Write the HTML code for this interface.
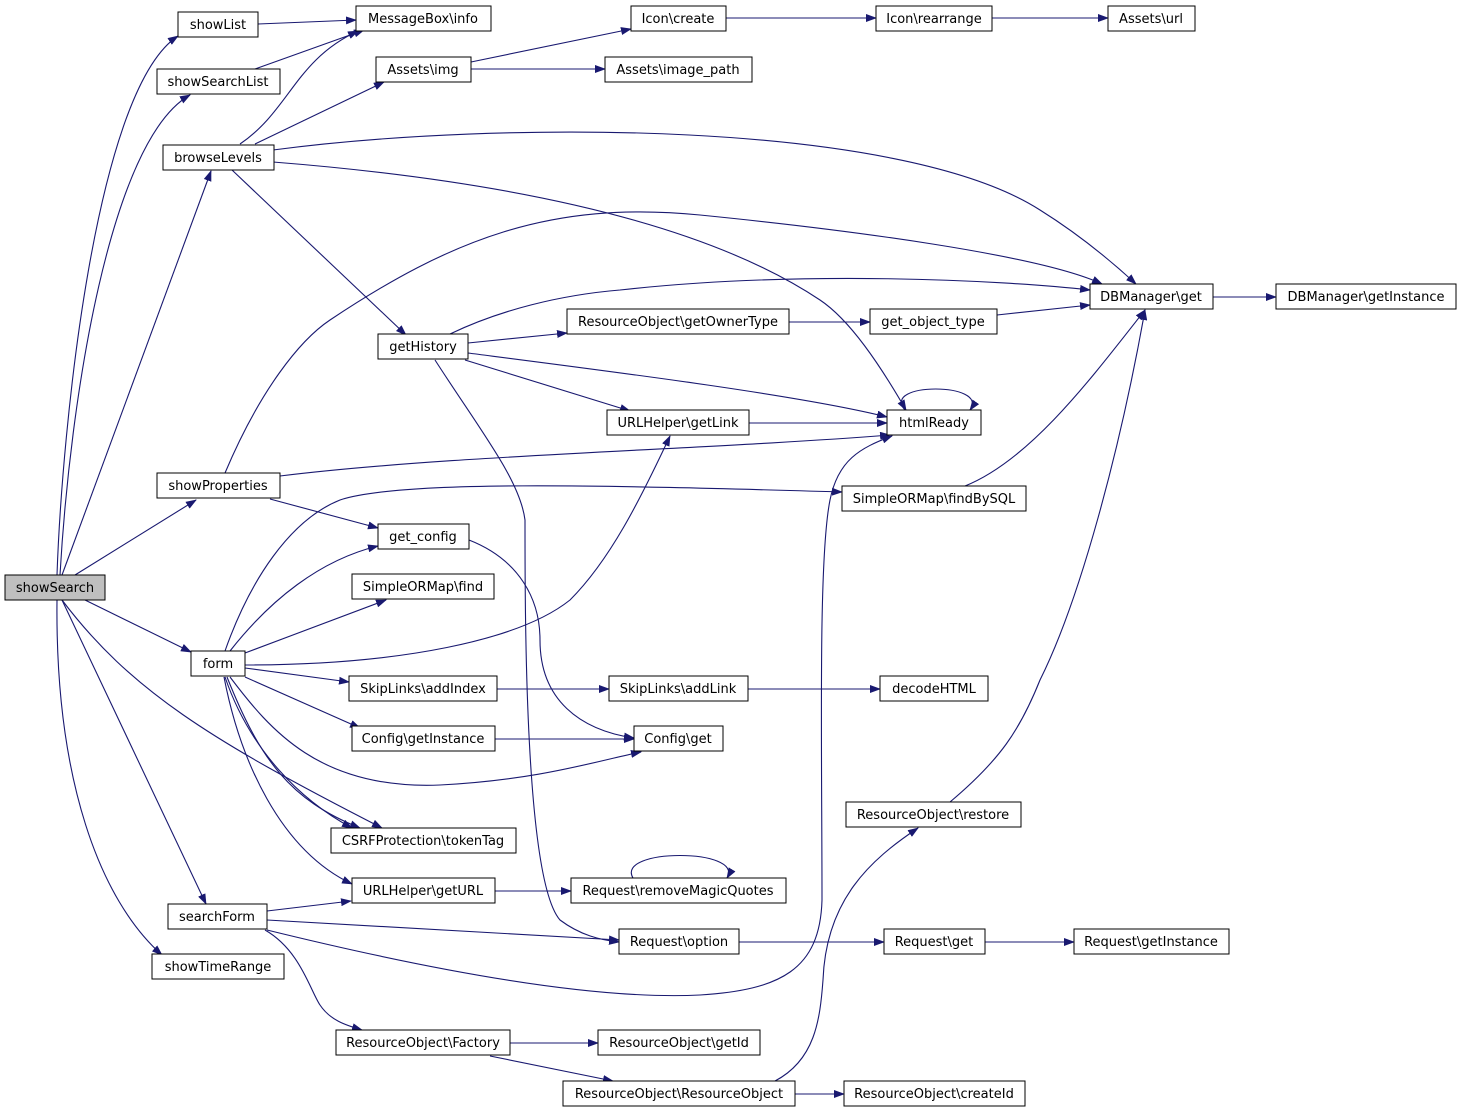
<!DOCTYPE html>
<html><head><meta charset="utf-8"><style>
html,body{margin:0;padding:0;background:#fff;}
svg{display:block;}
text{font-family:"DejaVu Sans","Liberation Sans",sans-serif;font-size:13px;fill:#000;}
</style></head><body>
<svg width="1461" height="1113" viewBox="0 0 1461 1113" xmlns="http://www.w3.org/2000/svg">
<defs>
<marker id="a" markerWidth="11" markerHeight="8" refX="10" refY="4" orient="auto" markerUnits="userSpaceOnUse">
<polygon points="0,0 11,4 0,8" fill="#191970"/>
</marker>
</defs>
<g fill="none" stroke="#191970" stroke-width="1.1" marker-end="url(#a)">
<path d="M57,575 C62,430 95,90 178,36"/>
<path d="M60,575 C70,400 110,140 190,95"/>
<path d="M62,575 L211,171"/>
<path d="M75,575 L196,500"/>
<path d="M85,600 L191,652"/>
<path d="M62,600 C130,690 210,740 382,828"/>
<path d="M62,600 L206,904"/>
<path d="M57,600 C55,780 100,900 162,955"/>
<path d="M258,24 L356,20"/>
<path d="M255,69 L364,30"/>
<path d="M240,144 C290,110 295,60 358,31"/>
<path d="M255,144 L384,82"/>
<path d="M273,150 C500,120 900,120 1040,210 C1080,235 1110,260 1136,284"/>
<path d="M273,162 C500,180 700,220 820,300 C850,320 880,365 906,410"/>
<path d="M232,170 L406,335"/>
<path d="M471,62 L631,29"/>
<path d="M471,69 L605,69"/>
<path d="M726,18 L876,18"/>
<path d="M992,18 L1108,18"/>
<path d="M225,473 C260,390 300,340 330,320 C450,240 550,200 700,215 C850,230 1040,255 1102,284"/>
<path d="M280,476 C450,455 700,450 890,435"/>
<path d="M270,499 L378,528"/>
<path d="M450,334 C500,310 560,295 620,290 C800,270 1000,280 1090,290"/>
<path d="M468,343 L567,333"/>
<path d="M468,353 C600,370 800,395 887,417"/>
<path d="M465,360 L630,411"/>
<path d="M435,360 C480,430 520,480 525,520 C525,620 525,880 560,920 C580,935 600,940 619,942"/>
<path d="M789,322 L870,322"/>
<path d="M997,315 L1090,305"/>
<path d="M1213,297 L1276,297"/>
<path d="M749,423 L887,423"/>
<path d="M905,410 C880,382 990,382 970,410"/>
<path d="M965,486 C1030,460 1090,380 1145,310"/>
<path d="M469,540 C520,560 540,600 540,640 C540,700 580,730 634,738"/>
<path d="M225,651 C250,580 290,520 340,500 C400,480 600,485 842,492"/>
<path d="M230,651 C270,600 320,560 378,546"/>
<path d="M245,653 L386,600"/>
<path d="M245,665 C400,665 520,640 570,600 C610,560 640,500 670,436"/>
<path d="M245,668 L349,682"/>
<path d="M245,677 L360,728"/>
<path d="M230,677 C270,730 320,790 440,785 C540,780 600,760 641,752"/>
<path d="M225,677 C250,750 300,800 352,828"/>
<path d="M227,677 C260,760 290,800 360,828"/>
<path d="M224,677 C240,760 280,850 352,884"/>
<path d="M497,689 L609,689"/>
<path d="M748,689 L880,689"/>
<path d="M495,739 L634,739"/>
<path d="M950,802 C1000,760 1020,730 1040,680 C1080,600 1120,450 1145,310"/>
<path d="M495,891 L571,891"/>
<path d="M633,878 C615,848 745,848 727,878"/>
<path d="M267,911 L351,901"/>
<path d="M267,920 L619,940"/>
<path d="M267,930 C450,975 600,1000 700,995 C780,990 820,970 822,900 C822,750 818,560 830,500 C838,460 860,448 892,436"/>
<path d="M265,930 C300,950 310,990 320,1005 C330,1020 345,1025 362,1030"/>
<path d="M739,942 L884,942"/>
<path d="M985,942 L1074,942"/>
<path d="M510,1043 L598,1043"/>
<path d="M490,1056 L613,1081"/>
<path d="M795,1094 L844,1094"/>
<path d="M775,1081 C815,1060 820,1020 823,980 C826,900 870,860 918,828"/>
</g>
<g stroke="#000" stroke-width="1" fill="#fff">
<rect x="5" y="575" width="100" height="25" fill="#bfbfbf"/>
<rect x="178" y="12" width="80" height="25"/>
<rect x="157" y="69" width="123" height="25"/>
<rect x="163" y="145" width="111" height="25"/>
<rect x="356" y="6" width="135" height="25"/>
<rect x="376" y="57" width="95" height="25"/>
<rect x="631" y="6" width="95" height="25"/>
<rect x="605" y="57" width="147" height="25"/>
<rect x="876" y="6" width="116" height="25"/>
<rect x="1108" y="6" width="87" height="25"/>
<rect x="1090" y="284" width="123" height="25"/>
<rect x="1276" y="284" width="180" height="25"/>
<rect x="378" y="334" width="90" height="25"/>
<rect x="567" y="309" width="222" height="25"/>
<rect x="870" y="309" width="127" height="25"/>
<rect x="607" y="410" width="142" height="25"/>
<rect x="887" y="410" width="94" height="25"/>
<rect x="157" y="473" width="123" height="25"/>
<rect x="842" y="486" width="184" height="25"/>
<rect x="378" y="524" width="91" height="25"/>
<rect x="352" y="574" width="142" height="25"/>
<rect x="191" y="651" width="54" height="25"/>
<rect x="349" y="676" width="148" height="25"/>
<rect x="609" y="676" width="139" height="25"/>
<rect x="880" y="676" width="108" height="25"/>
<rect x="352" y="726" width="143" height="25"/>
<rect x="634" y="726" width="89" height="25"/>
<rect x="846" y="802" width="175" height="25"/>
<rect x="331" y="828" width="185" height="25"/>
<rect x="352" y="878" width="143" height="25"/>
<rect x="571" y="878" width="215" height="25"/>
<rect x="168" y="904" width="99" height="25"/>
<rect x="619" y="929" width="120" height="25"/>
<rect x="884" y="929" width="101" height="25"/>
<rect x="1074" y="929" width="155" height="25"/>
<rect x="152" y="954" width="132" height="25"/>
<rect x="336" y="1030" width="174" height="25"/>
<rect x="598" y="1030" width="162" height="25"/>
<rect x="563" y="1081" width="232" height="25"/>
<rect x="844" y="1081" width="181" height="25"/>
</g>
<g text-anchor="middle">
<text x="55" y="592">showSearch</text>
<text x="218" y="29">showList</text>
<text x="218" y="86">showSearchList</text>
<text x="218" y="162">browseLevels</text>
<text x="423" y="23">MessageBox\info</text>
<text x="423" y="74">Assets\img</text>
<text x="678" y="23">Icon\create</text>
<text x="678" y="74">Assets\image_path</text>
<text x="934" y="23">Icon\rearrange</text>
<text x="1151" y="23">Assets\url</text>
<text x="1151" y="301">DBManager\get</text>
<text x="1366" y="301">DBManager\getInstance</text>
<text x="423" y="351">getHistory</text>
<text x="678" y="326">ResourceObject\getOwnerType</text>
<text x="933" y="326">get_object_type</text>
<text x="678" y="427">URLHelper\getLink</text>
<text x="934" y="427">htmlReady</text>
<text x="218" y="490">showProperties</text>
<text x="934" y="503">SimpleORMap\findBySQL</text>
<text x="423" y="541">get_config</text>
<text x="423" y="591">SimpleORMap\find</text>
<text x="218" y="668">form</text>
<text x="423" y="693">SkipLinks\addIndex</text>
<text x="678" y="693">SkipLinks\addLink</text>
<text x="934" y="693">decodeHTML</text>
<text x="423" y="743">Config\getInstance</text>
<text x="678" y="743">Config\get</text>
<text x="933" y="819">ResourceObject\restore</text>
<text x="423" y="845">CSRFProtection\tokenTag</text>
<text x="423" y="895">URLHelper\getURL</text>
<text x="678" y="895">Request\removeMagicQuotes</text>
<text x="217" y="921">searchForm</text>
<text x="679" y="946">Request\option</text>
<text x="934" y="946">Request\get</text>
<text x="1151" y="946">Request\getInstance</text>
<text x="218" y="971">showTimeRange</text>
<text x="423" y="1047">ResourceObject\Factory</text>
<text x="679" y="1047">ResourceObject\getId</text>
<text x="679" y="1098">ResourceObject\ResourceObject</text>
<text x="934" y="1098">ResourceObject\createId</text>
</g>
</svg>
</body></html>
